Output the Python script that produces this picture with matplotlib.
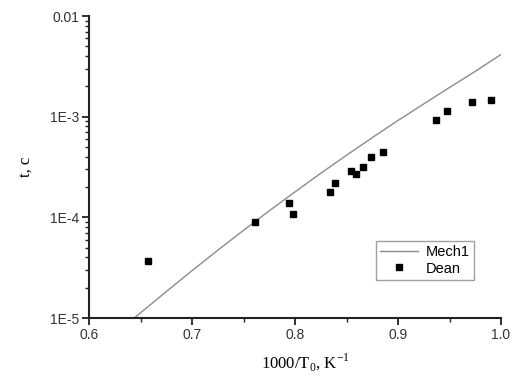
import numpy as np
import matplotlib
matplotlib.use("Agg")
import matplotlib.pyplot as plt
from matplotlib.ticker import FixedLocator, FixedFormatter, MultipleLocator, LogLocator, NullFormatter

# Mech1 model curve
mech_x = [0.644, 0.675, 0.70, 0.725, 0.75, 0.775, 0.80, 0.825, 0.85,
          0.875, 0.90, 0.925, 0.95, 0.975, 1.0]
mech_t = [1.0e-5, 1.83e-5, 2.95e-5, 4.71e-5, 7.43e-5, 1.16e-4, 1.79e-4, 2.74e-4, 4.14e-4,
          6.19e-4, 9.17e-4, 1.34e-3, 1.95e-3, 2.82e-3, 4.15e-3]

# Dean experimental data
dean_x = [0.6576, 0.7615, 0.7945, 0.798, 0.8337, 0.839, 0.854, 0.8592,
          0.866, 0.8738, 0.8854, 0.9369, 0.948, 0.9718, 0.9906]
dean_t = [3.66e-5, 9.04e-5, 1.40e-4, 1.08e-4, 1.78e-4, 2.21e-4, 2.86e-4, 2.69e-4,
          3.18e-4, 3.97e-4, 4.43e-4, 9.19e-4, 1.14e-3, 1.40e-3, 1.46e-3]

y_ticks = [1e-5, 1e-4, 1e-3, 1e-2]
y_tick_labels = ["1E-5", "1E-4", "1E-3", "0.01"]

plt.rcParams['mathtext.fontset'] = 'custom'
plt.rcParams['mathtext.rm'] = 'Liberation Serif'

fig = plt.figure(figsize=(5.22, 3.83), dpi=100)
ax = fig.add_axes([0.1705, 0.1697, 0.7893, 0.7885])

ax.plot(mech_x, mech_t, color="#8c8c8c", lw=1.0, label="Mech1")
ax.plot(dean_x, dean_t, ls="none", marker="s", color="black", ms=4.3, label="Dean")

ax.set_yscale("log")
ax.set_xlim(0.6, 1.0)
ax.set_ylim(1e-5, 1e-2)

ax.xaxis.set_major_locator(MultipleLocator(0.1))
ax.xaxis.set_minor_locator(MultipleLocator(0.05))
ax.yaxis.set_major_locator(FixedLocator(y_ticks))
ax.yaxis.set_major_formatter(FixedFormatter(y_tick_labels))
ax.yaxis.set_minor_locator(LogLocator(base=10, subs=np.arange(2, 10)))
ax.yaxis.set_minor_formatter(NullFormatter())

for side in ["top", "right"]:
    ax.spines[side].set_visible(False)
for side in ["left", "bottom"]:
    ax.spines[side].set_linewidth(1.5)
    ax.spines[side].set_color("#222222")

ax.tick_params(which="major", direction="out", length=5, width=1.3, color="#222222",
               labelsize=10, pad=2)
ax.tick_params(which="minor", direction="out", length=3, width=1.0, color="#222222")
for lbl in ax.get_xticklabels() + ax.get_yticklabels():
    lbl.set_fontfamily("Liberation Sans")
    lbl.set_color("#333333")

ax.set_xlabel(r"1000/T$_\mathregular{0}$, K$^\mathregular{-1}$", family="Liberation Serif",
              fontsize=12)
ax.xaxis.set_label_coords(0.525, -0.11)
ax.set_ylabel("t, c", family="Liberation Serif", fontsize=12, labelpad=12)

leg = ax.legend(loc="lower right", bbox_to_anchor=(0.934, 0.126), borderaxespad=0,
                frameon=True, fancybox=False,
                prop={"family": "Liberation Sans", "size": 10.5}, handlelength=2.6,
                borderpad=0.3, labelspacing=0.15, handletextpad=0.5)
leg.get_frame().set_edgecolor("#888888")
leg.get_frame().set_linewidth(1.0)

fig.savefig("out.png", dpi=100)
